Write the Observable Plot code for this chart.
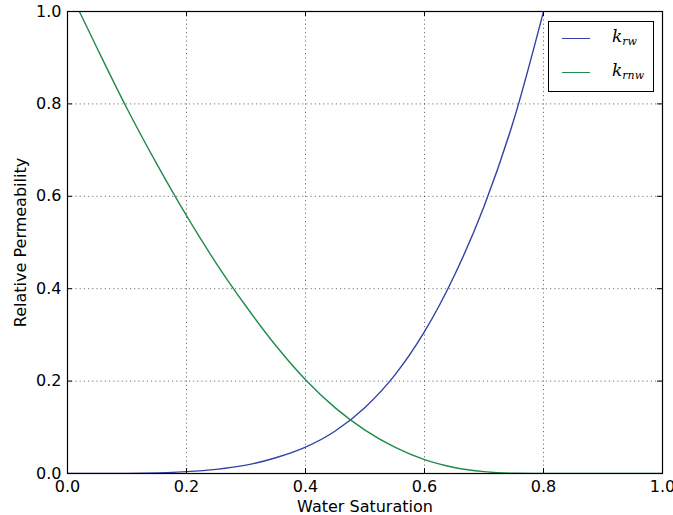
<!DOCTYPE html>
<html>
<head>
<meta charset="utf-8">
<script src="https://cdn.jsdelivr.net/npm/d3@7"></script>
<script src="https://cdn.jsdelivr.net/npm/@observablehq/plot@0.6"></script>
<style>
  html, body { margin: 0; padding: 0; background: #fff; }
  #wrap { position: relative; width: 673px; height: 515px; }
  #legend { position: absolute; left: 548px; top: 21px; width: 104px; height: 69px;
    border: 1.2px solid #000; background: #fff; font-family: "DejaVu Serif", serif; }
  .row { position: absolute; left: 0; height: 20px; }
  .row .ln { position: absolute; left: 13px; width: 28px; top: 10px; height: 0; border-top: 1.4px solid; }
  .row .lb { position: absolute; left: 63px; top: -2px; font-size: 17px; font-style: italic; white-space: nowrap; }
  .row .lb sub { font-size: 11px; vertical-align: -3px; }
</style>
</head>
<body>
<div id="wrap"></div>
<script>
// Series colors
const colorW = "#3343a6";
const colorNW = "#1f8b4a";

// krw series (water relative permeability)
const swW = [0, 0.02, 0.1, 0.2, 0.25, 0.3, 0.35, 0.4, 0.45, 0.5, 0.55, 0.6, 0.65, 0.7, 0.75, 0.8];
const krw = [0, 0, 0.0003, 0.004, 0.009, 0.018, 0.034, 0.057, 0.092, 0.143, 0.213, 0.307, 0.428, 0.578, 0.765, 1.0];

// krnw series (non-wetting relative permeability)
const swNW = [0.02, 0.05, 0.1, 0.15, 0.2, 0.25, 0.3, 0.35, 0.4, 0.45, 0.5, 0.55, 0.6, 0.65, 0.7, 0.75, 0.8, 1.0];
const krnw = [1.0, 0.92, 0.79, 0.67, 0.558, 0.455, 0.362, 0.277, 0.203, 0.142, 0.094, 0.057, 0.03, 0.013, 0.004, 0.0005, 0, 0];

// ticks
const xTicks = [0, 0.2, 0.4, 0.6, 0.8, 1.0];
const yTicks = [0, 0.2, 0.4, 0.6, 0.8, 1.0];
const gridTicks = [0.2, 0.4, 0.6, 0.8];

const W = 673, H = 515, mL = 67, mR = 11, mT = 11, mB = 42;
const innerW = W - mL - mR, innerH = H - mT - mB;
const tick = 5;

const dataW = swW.map((x, i) => ({x, y: krw[i]}));
const dataNW = swNW.map((x, i) => ({x, y: krnw[i]}));
const fmt = d3.format(".1f");

const chart = Plot.plot({
  width: W, height: H,
  marginLeft: mL, marginRight: mR, marginTop: mT, marginBottom: mB,
  style: {fontFamily: "DejaVu Sans, sans-serif", fontSize: "16px", color: "#000", background: "#fff"},
  x: {domain: [0, 1]},
  y: {domain: [0, 1]},
  marks: [
    Plot.ruleX(gridTicks, {stroke: "#000", strokeOpacity: 0.55, strokeWidth: 1, strokeDasharray: "1.2,3"}),
    Plot.ruleY(gridTicks, {stroke: "#000", strokeOpacity: 0.55, strokeWidth: 1, strokeDasharray: "1.2,3"}),
    Plot.line(dataW, {x: "x", y: "y", stroke: colorW, strokeWidth: 1.4, curve: "monotone-x", clip: true}),
    Plot.line(dataNW, {x: "x", y: "y", stroke: colorNW, strokeWidth: 1.4, curve: "monotone-x", clip: true}),
    // inward ticks on all four sides
    Plot.ruleX(xTicks, {stroke: "#000", insetTop: innerH - tick}),
    Plot.ruleX(xTicks, {stroke: "#000", insetBottom: innerH - tick}),
    Plot.ruleY(yTicks, {stroke: "#000", insetRight: innerW - tick}),
    Plot.ruleY(yTicks, {stroke: "#000", insetLeft: innerW - tick}),
    Plot.frame({stroke: "#000", strokeWidth: 1.2}),
    Plot.axisX(xTicks, {tickSize: 0, tickPadding: 7, tickFormat: fmt, label: "Water Saturation",
      labelAnchor: "center", labelArrow: "none", labelOffset: 38}),
    Plot.axisY(yTicks, {tickSize: 0, tickPadding: 6, tickFormat: fmt, label: "Relative Permeability",
      labelAnchor: "center", labelArrow: "none", labelOffset: 53})
  ]
});

const wrap = document.getElementById("wrap");
wrap.appendChild(chart);

// legend overlay
const legendItems = [
  {base: "k", sub: "rw", color: colorW},
  {base: "k", sub: "rnw", color: colorNW}
];
const leg = document.createElement("div");
leg.id = "legend";
legendItems.forEach((it, i) => {
  const row = document.createElement("div");
  row.className = "row";
  row.style.top = (6 + i * 34) + "px";
  row.style.width = "100%";
  row.innerHTML = `<div class="ln" style="border-top-color:${it.color}"></div><div class="lb">${it.base}<sub>${it.sub}</sub></div>`;
  leg.appendChild(row);
});
wrap.appendChild(leg);
</script>
</body>
</html>
